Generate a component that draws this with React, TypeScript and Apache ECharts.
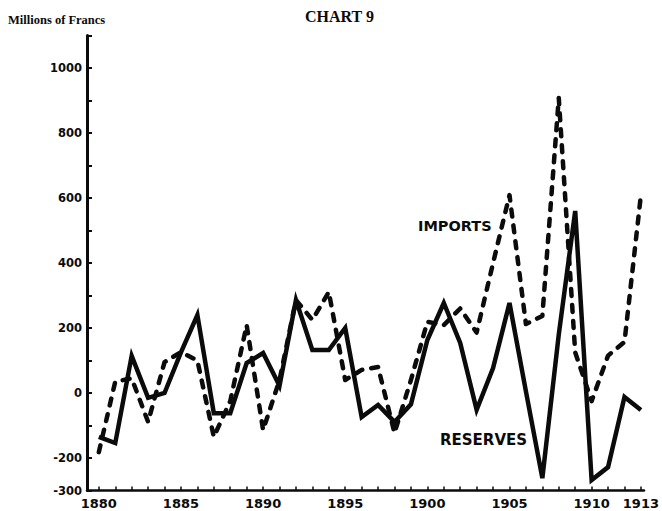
import React, { useEffect, useRef } from "react";
import * as echarts from "echarts";

const years = [
  1880, 1881, 1882, 1883, 1884, 1885, 1886, 1887, 1888, 1889,
  1890, 1891, 1892, 1893, 1894, 1895, 1896, 1897, 1898, 1899,
  1900, 1901, 1902, 1903, 1904, 1905, 1906, 1907, 1908, 1909,
  1910, 1911, 1912, 1913,
];

const reserves = [
  -135, -154, 114, -15, 0, 125, 240, -62, -62, 92,
  123, 22, 286, 132, 132, 200, -74, -37, -89, -35,
  163, 277, 154, -52, 77, 277, 5, -262, 180, 560,
  -268, -228, -12, -52,
];

const imports = [
  -182, 35, 45, -89, 95, 126, 100, -135, -25, 209,
  -114, 40, 286, 225, 311, 40, 71, 80, -123, 40,
  219, 209, 260, 186, 400, 609, 212, 237, 908, 125,
  -25, 115, 157, 609,
];

const xTickLabels = [1880, 1885, 1890, 1895, 1900, 1905, 1910, 1913];
const yTickLabels = [1000, 800, 600, 400, 200, 0, -200, -300];

export default function App() {
  const ref = useRef<HTMLDivElement>(null);

  useEffect(() => {
    if (!ref.current) return;
    const chart = echarts.init(ref.current, null, { renderer: "svg" });
    const ink = "#0b0b0b";
    const labelFont = {
      fontFamily: "DejaVu Sans",
      fontWeight: "bold" as const,
      fontSize: 11.5,
      color: ink,
    };
    chart.setOption({
      animation: false,
      backgroundColor: "#ffffff",
      grid: { left: 87, right: 12, top: 35.5, bottom: 20.5, containLabel: false },
      xAxis: {
        type: "value",
        min: 1879.28,
        max: 1913.19,
        splitLine: { show: false },
        axisLine: { show: true, onZero: false, lineStyle: { color: ink, width: 2.5 } },
        axisTick: {
          show: true,
          inside: true,
          length: 4,
          customValues: years,
          lineStyle: { color: ink, width: 1.5 },
        },
        axisLabel: {
          ...labelFont,
          fontSize: 13,
          margin: 6,
          customValues: xTickLabels,
          formatter: (v: number) => String(v),
        },
      },
      yAxis: {
        type: "value",
        min: -300,
        max: 1100,
        interval: 100,
        splitLine: { show: false },
        axisLine: { show: true, onZero: false, lineStyle: { color: ink, width: 3 } },
        axisTick: { show: true, inside: true, length: 5, lineStyle: { color: ink, width: 2 } },
        axisLabel: {
          ...labelFont,
          margin: 5,
          formatter: (v: number) => (yTickLabels.includes(v) ? String(v) : ""),
        },
      },
      series: [
        {
          name: "Reserves",
          type: "line",
          data: years.map((y, i) => [y, reserves[i]]),
          showSymbol: false,
          symbol: "none",
          lineStyle: { color: ink, width: 4.5, join: "miter", cap: "butt" },
        },
        {
          name: "Imports",
          type: "line",
          data: years.map((y, i) => [y, imports[i]]),
          showSymbol: false,
          symbol: "none",
          lineStyle: { color: ink, width: 4.5, type: [7, 9], cap: "round", join: "round" },
        },
      ],
      graphic: [
        {
          type: "text",
          left: 8,
          top: 13,
          style: {
            text: "Millions of Francs",
            fontFamily: "Liberation Serif",
            fontWeight: "bold",
            fontSize: 12.5,
            fill: ink,
          },
        },
        {
          type: "text",
          left: 305,
          top: 8,
          style: {
            text: "CHART 9",
            fontFamily: "Liberation Serif",
            fontWeight: "bold",
            fontSize: 16,
            fill: ink,
          },
        },
        {
          type: "text",
          left: 418,
          top: 218,
          style: {
            text: "IMPORTS",
            fontFamily: "DejaVu Sans",
            fontWeight: "bold",
            fontSize: 14.5,
            fill: ink,
          },
        },
        {
          type: "text",
          left: 440,
          top: 432,
          style: {
            text: "RESERVES",
            fontFamily: "DejaVu Sans",
            fontWeight: "bold",
            fontSize: 15,
            fill: ink,
          },
        },
      ],
    });
    return () => chart.dispose();
  }, []);

  return (
    <div
      ref={ref}
      style={{ position: "fixed", left: 0, top: 0, width: 662, height: 511, background: "#fff" }}
    />
  );
}
